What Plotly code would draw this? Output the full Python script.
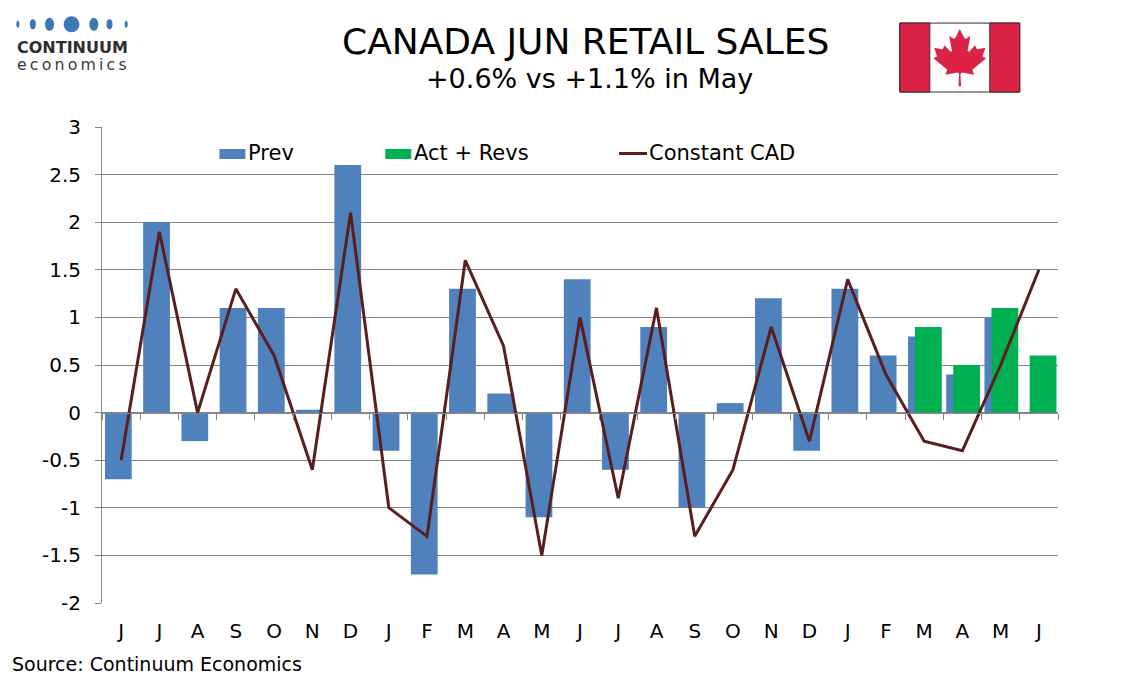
import plotly.graph_objects as go

# ---------------- data ----------------
months = ["J", "J", "A", "S", "O", "N", "D", "J", "F", "M", "A", "M", "J",
          "J", "A", "S", "O", "N", "D", "J", "F", "M", "A", "M", "J"]
prev = [-0.7, 2.0, -0.3, 1.1, 1.1, 0.03, 2.6, -0.4, -1.7, 1.3, 0.2, -1.1, 1.4,
        -0.6, 0.9, -1.0, 0.1, 1.2, -0.4, 1.3, 0.6, 0.8, 0.4, 1.0, None]
act_revs = [None] * 21 + [0.9, 0.5, 1.1, 0.6]
constant_cad = [-0.5, 1.9, 0.0, 1.3, 0.6, -0.6, 2.1, -1.0, -1.3, 1.6, 0.7, -1.5, 1.0,
                -0.9, 1.1, -1.3, -0.6, 0.9, -0.3, 1.4, 0.4, -0.3, -0.4, 0.5, 1.5]
y_tick_values = [-2, -1.5, -1, -0.5, 0, 0.5, 1, 1.5, 2, 2.5, 3]
y_tick_labels = ["-2", "-1.5", "-1", "-0.5", "0", "0.5", "1", "1.5", "2", "2.5", "3"]
series_names = ["Prev", "Act + Revs", "Constant CAD"]
title_text = "CANADA JUN RETAIL SALES"
subtitle_text = "+0.6% vs +1.1% in May"
source_text = "Source: Continuum Economics"

# ---------------- styling ----------------
W, H = 1134, 680
OFF = 8  # the page body adds an 8px margin; lay out in window pixels
FONT = "DejaVu Sans"
BLUE = "#4F81BD"
GREEN = "#00B050"
MAROON = "#5A1E1E"
GRID = "#878787"
RED = "#DC2347"
LINE_W = 3

# plot area in window pixels
PL, PR, PT, PB = 101.5, 1058.3, 127.0, 603.3


def px(x):
    return (x - PL) / (PR - PL)


def py(y):
    return (PB - y) / (PB - PT)


y_min, y_max = -2, 3
xpos = list(range(len(months)))

fig = go.Figure()
fig.add_trace(go.Bar(x=xpos, y=prev, width=0.70, offset=-0.423, marker=dict(color=BLUE, line=dict(width=0)),
                     name=series_names[0], showlegend=False, hoverinfo="y"))
fig.add_trace(go.Bar(x=xpos, y=act_revs, width=0.70, offset=-0.24, marker=dict(color=GREEN, line=dict(width=0)),
                     name=series_names[1], showlegend=False, hoverinfo="y"))
fig.add_trace(go.Scatter(x=xpos, y=constant_cad, mode="lines", line=dict(color=MAROON, width=LINE_W),
                         name=series_names[2], showlegend=False, xaxis="x2", yaxis="y"))

zero_pos = (0 - y_min) / (y_max - y_min)
xr = [-0.5, len(months) - 0.5]

fig.update_layout(
    width=W, height=H,
    margin=dict(l=PL - OFF, r=W - (PR - OFF), t=PT - OFF, b=H - (PB - OFF), pad=0, autoexpand=False),
    paper_bgcolor="white", plot_bgcolor="white",
    barmode="overlay",
    showlegend=False,
    font=dict(family=FONT, color="#000000"),
    xaxis=dict(domain=[0, 1], range=xr, tickmode="array", tickvals=xpos, ticktext=months, automargin=False,
               showgrid=False, zeroline=False, showline=False, ticks="", ticklabelstandoff=14,
               tickfont=dict(size=20, family=FONT, color="#000")),
    xaxis2=dict(domain=[0, 1], range=xr, overlaying="x", anchor="free", position=zero_pos, automargin=False,
                showgrid=False, zeroline=False, showline=True, linecolor=GRID, linewidth=1,
                ticks="outside", ticklen=6, tickcolor=GRID, tickwidth=1,
                tickmode="array", tickvals=[i - 0.5 for i in range(len(months) + 1)],
                showticklabels=False),
    yaxis=dict(domain=[0, 1], range=[y_min, y_max], tickmode="array", tickvals=y_tick_values, automargin=False,
               ticktext=y_tick_labels, showgrid=True, gridcolor=GRID, gridwidth=1,
               showline=True, linecolor=GRID, linewidth=1, zeroline=False,
               ticks="outside", ticklen=6, tickcolor=GRID, tickwidth=1, ticklabelstandoff=10,
               tickfont=dict(size=20, family=FONT, color="#000")),
)

shapes = []
annotations = []

# ---- legend (drawn manually) ----
shapes.append(dict(type="rect", xref="paper", yref="paper", x0=px(219), x1=px(245), y0=py(159), y1=py(149),
                   fillcolor=BLUE, line=dict(width=0)))
shapes.append(dict(type="rect", xref="paper", yref="paper", x0=px(385), x1=px(411), y0=py(159), y1=py(149),
                   fillcolor=GREEN, line=dict(width=0)))
shapes.append(dict(type="line", xref="paper", yref="paper", x0=px(619), x1=px(647), y0=py(153.5), y1=py(153.5),
                   line=dict(color=MAROON, width=LINE_W)))
for xx, txt in [(246, series_names[0]), (412, series_names[1]), (647, series_names[2])]:
    annotations.append(dict(xref="paper", yref="paper", x=px(xx), y=py(153), text=txt, showarrow=False,
                            xanchor="left", yanchor="middle", font=dict(size=21, family=FONT, color="#000")))

# ---- titles ----
annotations.append(dict(xref="paper", yref="paper", x=px(585), y=py(41), text=title_text, showarrow=False,
                        xanchor="center", yanchor="middle", font=dict(size=36, family=FONT, color="#000")))
annotations.append(dict(xref="paper", yref="paper", x=px(589), y=py(78), text=subtitle_text, showarrow=False,
                        xanchor="center", yanchor="middle", font=dict(size=27, family=FONT, color="#000")))
annotations.append(dict(xref="paper", yref="paper", x=px(9), y=py(664), text=source_text, showarrow=False,
                        xanchor="left", yanchor="middle", font=dict(size=19, family=FONT, color="#000")))

# ---- logo ----
LOGO_BLUE = "#3C78B4"
for cx, w, h in [(17.3, 3, 7), (32.3, 6, 10), (49, 9, 13), (71, 16, 16), (93.3, 9, 13), (109, 6, 10), (125.7, 3, 7)]:
    shapes.append(dict(type="circle", xref="paper", yref="paper", x0=px(cx - w / 2), x1=px(cx + w / 2),
                       y0=py(24.3 + h / 2), y1=py(24.3 - h / 2), fillcolor=LOGO_BLUE, line=dict(width=0)))
annotations.append(dict(xref="paper", yref="paper", x=px(71.7), y=py(47), text="<b>CONTINUUM</b>", showarrow=False,
                        xanchor="center", yanchor="middle", font=dict(size=16, family=FONT, color="#2e2e2e")))
annotations.append(dict(xref="paper", yref="paper", x=px(71.7), y=py(64), text="\u2009".join("economics"),
                        showarrow=False, xanchor="center", yanchor="middle",
                        font=dict(size=15.8, family=FONT, color="#3a3a3a")))

# ---- flag ----
FX0, FX1, FY0, FY1 = 900, 1020, 23, 92
shapes.append(dict(type="rect", xref="paper", yref="paper", x0=px(FX0), x1=px(FX1), y0=py(FY1), y1=py(FY0),
                   fillcolor="white", line=dict(color="#3a2a2a", width=1)))
shapes.append(dict(type="rect", xref="paper", yref="paper", x0=px(FX0), x1=px(930), y0=py(FY1), y1=py(FY0),
                   fillcolor=RED, line=dict(color="#3a2a2a", width=1)))
shapes.append(dict(type="rect", xref="paper", yref="paper", x0=px(990), x1=px(FX1), y0=py(FY1), y1=py(FY0),
                   fillcolor=RED, line=dict(color="#3a2a2a", width=1)))
half_leaf = [(-90, 2030), (-45, 1167), (-156, 1069), (-1015, 1220), (-899, 900), (-919, 827), (-1860, 65),
             (-1648, -34), (-1614, -113), (-1800, -685), (-1258, -570), (-1185, -608), (-1080, -855),
             (-657, -401), (-546, -458), (-750, -1510), (-423, -1321), (-332, -1348), (0, -2000)]
leaf = half_leaf + [(-a, b) for a, b in reversed(half_leaf[:-1])]
scale, lcx, lcy = 0.0142, 960, 57.4
path = "M " + " L ".join(f"{px(lcx + a * scale):.5f},{py(lcy + b * scale):.5f}" for a, b in leaf) + " Z"
shapes.append(dict(type="path", xref="paper", yref="paper", path=path, fillcolor=RED, line=dict(width=0)))

fig.update_layout(shapes=shapes, annotations=annotations)
fig.write_html("out.html")
